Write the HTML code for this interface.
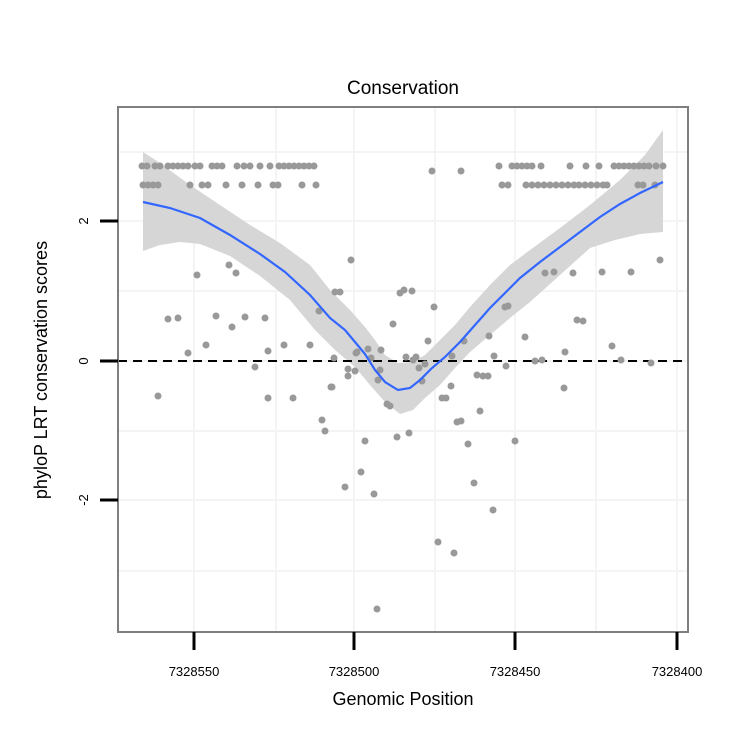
<!DOCTYPE html>
<html><head><style>body{margin:0;background:#fff}svg{display:block}</style></head><body>
<svg width="750" height="750" xmlns="http://www.w3.org/2000/svg" font-family="Liberation Sans, sans-serif">
<rect width="750" height="750" fill="#fff"/>
<g stroke="#f4f4f4" stroke-width="2">
<line x1="194" y1="107" x2="194" y2="632"/><line x1="354" y1="107" x2="354" y2="632"/><line x1="515" y1="107" x2="515" y2="632"/><line x1="677" y1="107" x2="677" y2="632"/>
<line x1="276" y1="107" x2="276" y2="632"/><line x1="435" y1="107" x2="435" y2="632"/><line x1="596" y1="107" x2="596" y2="632"/>
<line x1="118" y1="152" x2="688" y2="152"/><line x1="118" y1="221" x2="688" y2="221"/><line x1="118" y1="291" x2="688" y2="291"/><line x1="118" y1="361" x2="688" y2="361"/><line x1="118" y1="431" x2="688" y2="431"/><line x1="118" y1="500" x2="688" y2="500"/><line x1="118" y1="571" x2="688" y2="571"/>
</g>
<polygon fill="#d6d6d6" points="143,152 160,163 190,185 220,205 250,225 280,243 310,265 330,290 350,310 365,327 375,340 385,355 398,363 412,362 425,355 440,340 455,325 470,307 490,285 510,265 530,250 560,228 590,205 620,180 645,155 663,130 663,232 640,234 615,240 590,248 560,275 530,302 510,318 490,335 470,352 455,368 440,385 425,398 413,410 400,414 385,402 370,385 355,367 335,350 315,330 290,300 260,276 230,256 200,244 180,242 160,245 143,251"/>
<line x1="118" y1="361" x2="688" y2="361" stroke="#000" stroke-width="2" stroke-dasharray="9,6"/>
<g fill="#999">
<script>/*none*/</script>
</g>
<g fill="#999" id="pts"></g>
<g fill="#999">
<!-- top rows -->
<circle cx="142" cy="166" r="3.5"/><circle cx="147" cy="166" r="3.5"/><circle cx="155" cy="166" r="3.5"/><circle cx="160" cy="166" r="3.5"/><circle cx="168" cy="166" r="3.5"/><circle cx="173" cy="166" r="3.5"/><circle cx="178" cy="166" r="3.5"/><circle cx="183" cy="166" r="3.5"/><circle cx="188" cy="166" r="3.5"/><circle cx="195" cy="166" r="3.5"/><circle cx="200" cy="166" r="3.5"/><circle cx="212" cy="166" r="3.5"/><circle cx="217" cy="166" r="3.5"/><circle cx="222" cy="166" r="3.5"/><circle cx="237" cy="166" r="3.5"/><circle cx="244" cy="166" r="3.5"/><circle cx="250" cy="166" r="3.5"/><circle cx="260" cy="166" r="3.5"/><circle cx="270" cy="166" r="3.5"/><circle cx="279" cy="166" r="3.5"/><circle cx="284" cy="166" r="3.5"/><circle cx="289" cy="166" r="3.5"/><circle cx="294" cy="166" r="3.5"/><circle cx="299" cy="166" r="3.5"/><circle cx="304" cy="166" r="3.5"/><circle cx="309" cy="166" r="3.5"/><circle cx="314" cy="166" r="3.5"/>
<circle cx="143" cy="185" r="3.5"/><circle cx="148" cy="185" r="3.5"/><circle cx="153" cy="185" r="3.5"/><circle cx="158" cy="185" r="3.5"/><circle cx="190" cy="185" r="3.5"/><circle cx="202" cy="185" r="3.5"/><circle cx="208" cy="185" r="3.5"/><circle cx="226" cy="185" r="3.5"/><circle cx="242" cy="185" r="3.5"/><circle cx="258" cy="185" r="3.5"/><circle cx="273" cy="185" r="3.5"/><circle cx="278" cy="185" r="3.5"/><circle cx="302" cy="185" r="3.5"/><circle cx="316" cy="185" r="3.5"/>
<circle cx="432" cy="171" r="3.5"/><circle cx="461" cy="171" r="3.5"/>
<circle cx="499" cy="166" r="3.5"/><circle cx="512" cy="166" r="3.5"/><circle cx="517" cy="166" r="3.5"/><circle cx="522" cy="166" r="3.5"/><circle cx="527" cy="166" r="3.5"/><circle cx="532" cy="166" r="3.5"/><circle cx="541" cy="166" r="3.5"/><circle cx="570" cy="166" r="3.5"/><circle cx="586" cy="166" r="3.5"/><circle cx="599" cy="166" r="3.5"/><circle cx="614" cy="166" r="3.5"/><circle cx="619" cy="166" r="3.5"/><circle cx="624" cy="166" r="3.5"/><circle cx="629" cy="166" r="3.5"/><circle cx="634" cy="166" r="3.5"/><circle cx="639" cy="166" r="3.5"/><circle cx="644" cy="166" r="3.5"/><circle cx="649" cy="166" r="3.5"/><circle cx="656" cy="166" r="3.5"/><circle cx="663" cy="166" r="3.5"/>
<circle cx="502" cy="185" r="3.5"/><circle cx="508" cy="185" r="3.5"/><circle cx="526" cy="185" r="3.5"/><circle cx="532" cy="185" r="3.5"/><circle cx="538" cy="185" r="3.5"/><circle cx="544" cy="185" r="3.5"/><circle cx="550" cy="185" r="3.5"/><circle cx="556" cy="185" r="3.5"/><circle cx="562" cy="185" r="3.5"/><circle cx="568" cy="185" r="3.5"/><circle cx="574" cy="185" r="3.5"/><circle cx="579" cy="185" r="3.5"/><circle cx="585" cy="185" r="3.5"/><circle cx="591" cy="185" r="3.5"/><circle cx="597" cy="185" r="3.5"/><circle cx="603" cy="185" r="3.5"/><circle cx="607" cy="185" r="3.5"/><circle cx="638" cy="185" r="3.5"/><circle cx="643" cy="185" r="3.5"/><circle cx="655" cy="185" r="3.5"/>
<!-- scatter -->
<circle cx="158" cy="396" r="3.5"/><circle cx="168" cy="319" r="3.5"/><circle cx="178" cy="318" r="3.5"/><circle cx="188" cy="353" r="3.5"/><circle cx="197" cy="275" r="3.5"/><circle cx="206" cy="345" r="3.5"/><circle cx="216" cy="316" r="3.5"/><circle cx="229" cy="265" r="3.5"/><circle cx="232" cy="327" r="3.5"/><circle cx="236" cy="273" r="3.5"/><circle cx="245" cy="317" r="3.5"/><circle cx="255" cy="367" r="3.5"/><circle cx="265" cy="318" r="3.5"/><circle cx="268" cy="398" r="3.5"/><circle cx="268" cy="351" r="3.5"/><circle cx="284" cy="345" r="3.5"/><circle cx="293" cy="398" r="3.5"/><circle cx="310" cy="345" r="3.5"/><circle cx="319" cy="311" r="3.5"/><circle cx="331" cy="387" r="3.5"/><circle cx="335" cy="292" r="3.5"/><circle cx="340" cy="292" r="3.5"/><circle cx="334" cy="358" r="3.5"/><circle cx="351" cy="260" r="3.5"/><circle cx="357" cy="352" r="3.5"/><circle cx="348" cy="369" r="3.5"/><circle cx="348" cy="376" r="3.5"/><circle cx="332" cy="387" r="3.5"/><circle cx="322" cy="420" r="3.5"/><circle cx="325" cy="431" r="3.5"/><circle cx="345" cy="487" r="3.5"/><circle cx="361" cy="472" r="3.5"/><circle cx="365" cy="441" r="3.5"/><circle cx="374" cy="494" r="3.5"/><circle cx="356" cy="353" r="3.5"/><circle cx="355" cy="371" r="3.5"/><circle cx="368" cy="349" r="3.5"/><circle cx="371" cy="358" r="3.5"/><circle cx="381" cy="350" r="3.5"/><circle cx="380" cy="370" r="3.5"/><circle cx="378" cy="380" r="3.5"/><circle cx="387" cy="404" r="3.5"/><circle cx="390" cy="406" r="3.5"/><circle cx="393" cy="324" r="3.5"/><circle cx="397" cy="437" r="3.5"/><circle cx="400" cy="293" r="3.5"/><circle cx="404" cy="290" r="3.5"/><circle cx="412" cy="291" r="3.5"/><circle cx="406" cy="357" r="3.5"/><circle cx="409" cy="433" r="3.5"/><circle cx="413" cy="360" r="3.5"/><circle cx="416" cy="357" r="3.5"/><circle cx="419" cy="368" r="3.5"/><circle cx="422" cy="381" r="3.5"/><circle cx="428" cy="341" r="3.5"/><circle cx="425" cy="364" r="3.5"/><circle cx="434" cy="307" r="3.5"/><circle cx="438" cy="542" r="3.5"/><circle cx="454" cy="553" r="3.5"/><circle cx="442" cy="398" r="3.5"/><circle cx="446" cy="398" r="3.5"/><circle cx="451" cy="386" r="3.5"/><circle cx="457" cy="422" r="3.5"/><circle cx="461" cy="421" r="3.5"/><circle cx="452" cy="356" r="3.5"/><circle cx="464" cy="341" r="3.5"/><circle cx="468" cy="444" r="3.5"/><circle cx="474" cy="483" r="3.5"/><circle cx="480" cy="411" r="3.5"/><circle cx="477" cy="375" r="3.5"/><circle cx="483" cy="376" r="3.5"/><circle cx="488" cy="376" r="3.5"/><circle cx="489" cy="336" r="3.5"/><circle cx="493" cy="510" r="3.5"/><circle cx="494" cy="356" r="3.5"/><circle cx="505" cy="307" r="3.5"/><circle cx="515" cy="441" r="3.5"/><circle cx="506" cy="366" r="3.5"/><circle cx="525" cy="337" r="3.5"/><circle cx="535" cy="361" r="3.5"/><circle cx="542" cy="360" r="3.5"/><circle cx="545" cy="273" r="3.5"/><circle cx="554" cy="272" r="3.5"/><circle cx="564" cy="388" r="3.5"/><circle cx="565" cy="352" r="3.5"/><circle cx="573" cy="273" r="3.5"/><circle cx="577" cy="320" r="3.5"/><circle cx="583" cy="321" r="3.5"/><circle cx="602" cy="272" r="3.5"/><circle cx="612" cy="346" r="3.5"/><circle cx="621" cy="360" r="3.5"/><circle cx="631" cy="272" r="3.5"/><circle cx="651" cy="363" r="3.5"/><circle cx="660" cy="260" r="3.5"/><circle cx="377" cy="609" r="3.5"/><circle cx="508" cy="306" r="3.5"/>
</g>
<polyline fill="none" stroke="#3366ff" stroke-width="2.2" points="143,202 170,208 200,218 230,235 260,254 285,272 310,295 330,318 345,330 355,342 365,354 375,370 385,382 398,390 410,388 420,380 432,368 445,357 460,342 475,325 490,308 505,293 520,278 540,262 560,247 580,232 600,217 620,204 640,193 663,182"/>
<rect x="118" y="107" width="570" height="525" fill="none" stroke="#7f7f7f" stroke-width="2"/>
<g stroke="#000" stroke-width="3">
<line x1="100" y1="221" x2="118" y2="221"/><line x1="100" y1="361" x2="118" y2="361"/><line x1="100" y1="500" x2="118" y2="500"/>
<line x1="194" y1="632" x2="194" y2="650"/><line x1="354" y1="632" x2="354" y2="650"/><line x1="515" y1="632" x2="515" y2="650"/><line x1="677" y1="632" x2="677" y2="650"/>
</g>
<g font-size="13" text-anchor="middle">
<text transform="translate(88,221) rotate(-90)">2</text>
<text transform="translate(88,361) rotate(-90)">0</text>
<text transform="translate(88,500) rotate(-90)">-2</text>
<text x="194" y="676">7328550</text><text x="354" y="676">7328500</text><text x="515" y="676">7328450</text><text x="677" y="676">7328400</text>
</g>
<text x="403" y="94" font-size="19" text-anchor="middle">Conservation</text>
<text x="403" y="705" font-size="18" text-anchor="middle">Genomic Position</text>
<text transform="translate(47,370) rotate(-90)" font-size="18" text-anchor="middle">phyloP LRT conservation scores</text>
</svg>
</body></html>
